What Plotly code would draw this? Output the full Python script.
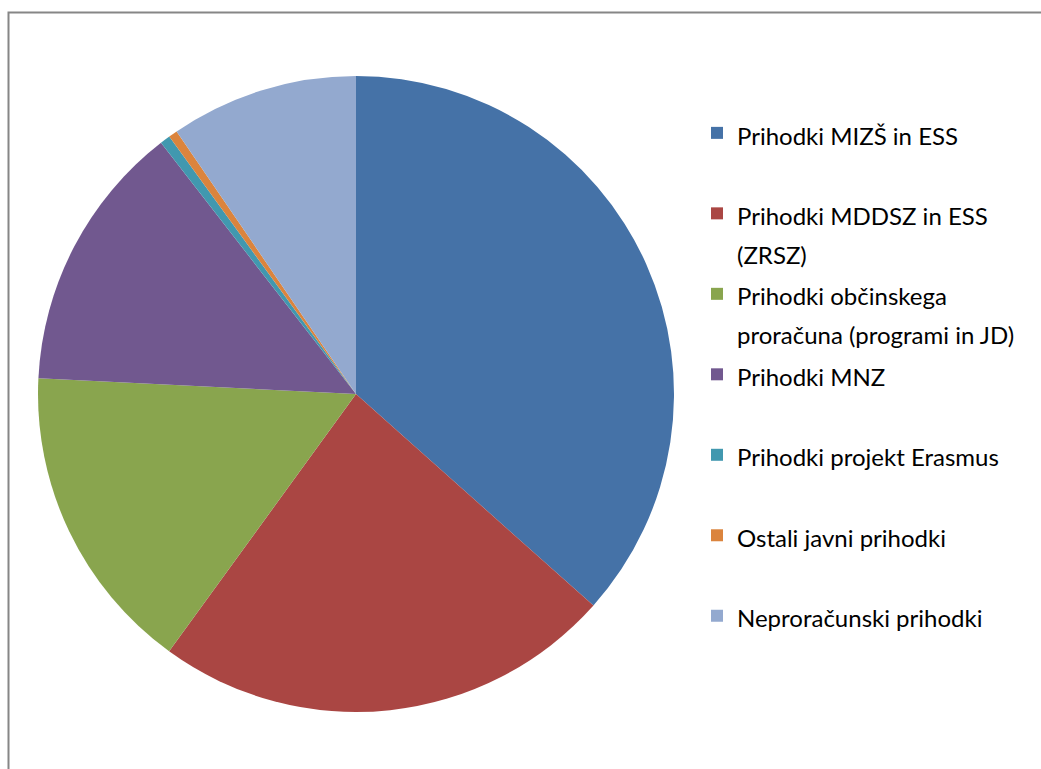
import plotly.graph_objects as go

categories = [
    "Prihodki MIZŠ in ESS",
    "Prihodki MDDSZ in ESS<br>(ZRSZ)",
    "Prihodki občinskega<br>proračuna (programi in JD)",
    "Prihodki MNZ",
    "Prihodki projekt Erasmus",
    "Ostali javni prihodki",
    "Neproračunski prihodki",
]
shares = [36.59, 23.42, 15.80, 13.70, 0.52, 0.45, 9.54]
colors = ["#4572A7", "#AA4643", "#89A54E", "#71588F", "#4198AF", "#DB843D", "#93A9CF"]

TEXT_PX = 24
# pad single-line labels to two lines so every legend entry has equal height
def legend_label(c):
    lines = c.split("<br>")
    if len(lines) < 2:
        lines.append("\u00a0")
    return "<br>".join(f'<span style="font-size:{TEXT_PX}px">{ln}</span>' for ln in lines)

labels = [legend_label(c) for c in categories]

W, H = 1041, 769
cx, cy, r = 356, 394, 318

fig = go.Figure(go.Pie(
    labels=labels,
    values=shares,
    sort=False,
    direction="clockwise",
    rotation=0,
    marker=dict(colors=colors, line=dict(width=0)),
    textinfo="none",
    hovertemplate="%{label}: %{percent}<extra></extra>",
    domain=dict(x=[(cx - r) / W, (cx + r) / W], y=[1 - (cy + r) / H, 1 - (cy - r) / H]),
))

fig.update_layout(
    width=W, height=H,
    margin=dict(l=0, r=0, t=0, b=0, autoexpand=False),
    paper_bgcolor="white",
    showlegend=True,
    legend=dict(
        x=697 / W, xanchor="left",
        y=1 - 107 / H, yanchor="top",
        valign="top",
        font=dict(family="Lato, Carlito, Calibri, sans-serif", size=29.8, color="#000000"),
        bgcolor="rgba(0,0,0,0)",
    ),
    shapes=[dict(
        type="rect", xref="paper", yref="paper",
        x0=8.5 / W, x1=1.02, y0=-0.02, y1=1 - 12.5 / H,
        line=dict(color="#868686", width=2),
        fillcolor="rgba(0,0,0,0)",
        layer="below",
    )],
)

fig.write_html(
    "out.html",
    config={"displayModeBar": False},
    post_script="document.body.style.margin='0';document.body.style.overflow='hidden';",
)
